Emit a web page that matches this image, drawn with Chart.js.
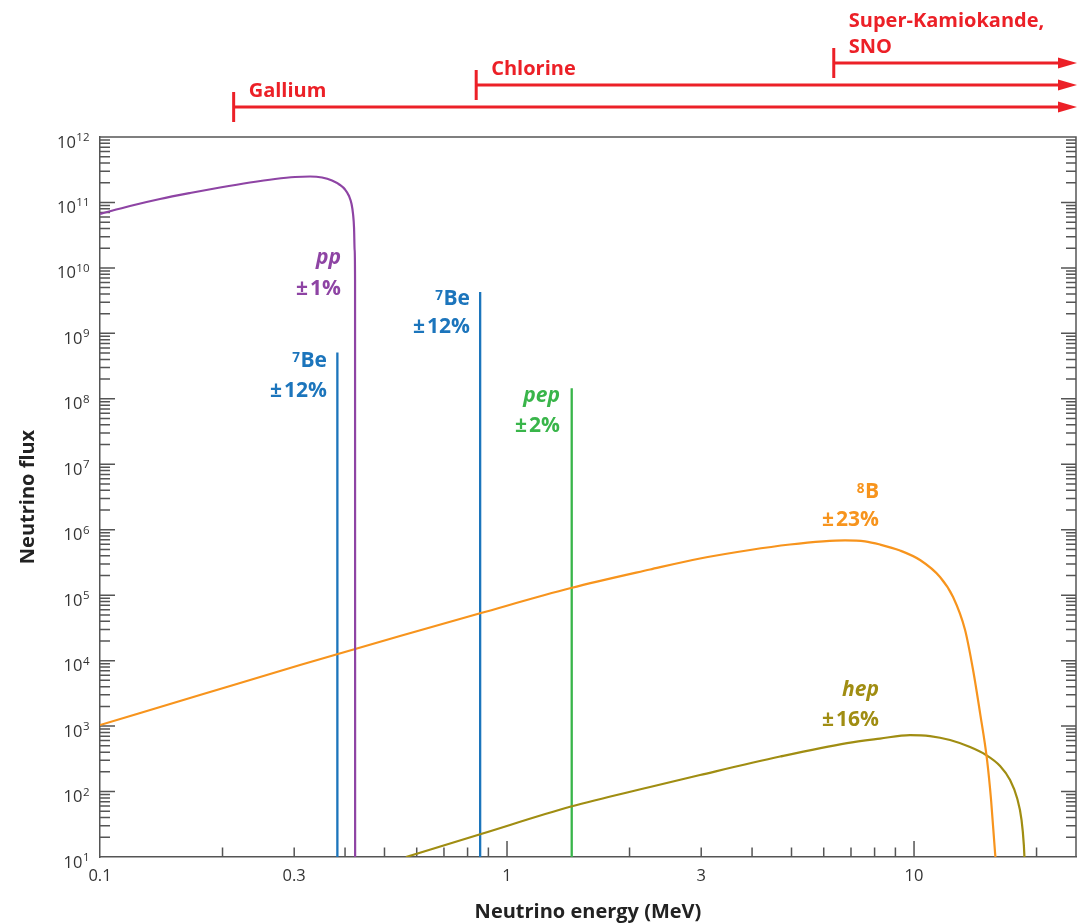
<!DOCTYPE html>
<html><head><meta charset="utf-8">
<script src="https://cdn.jsdelivr.net/npm/chart.js@4.4.1/dist/chart.umd.min.js"></script>
<style>html,body{margin:0;padding:0;background:#fff}#wrap{width:1086px;height:924px;position:relative}</style>
</head><body><div id="wrap"><canvas id="c"></canvas></div>
<script>
// ---- data ----
const ppEnergy  = [0.1, 0.1185, 0.1404, 0.1664, 0.1972, 0.2336, 0.2692, 0.3014, 0.3281, 0.3512, 0.3716, 0.3888, 0.4000, 0.4091, 0.4150, 0.4185, 0.4209, 0.4223, 0.4233, 0.4235];
const ppFlux    = [6.66e10, 8.83e10, 1.129e11, 1.394e11, 1.692e11, 2.017e11, 2.282e11, 2.448e11, 2.492e11, 2.405e11, 2.165e11, 1.848e11, 1.577e11, 1.254e11, 9.47e10, 6.66e10, 4.07e10, 1.877e10, 6.53e9, 1];
const b8Energy  = [0.1, 0.176, 0.3101, 0.5459, 0.8632, 1.436, 2.246, 2.980, 3.955, 4.958, 5.977, 6.769, 7.578, 8.250, 9.238, 10.345, 11.583, 12.471, 13.348, 13.966, 14.530, 15.117, 15.463, 15.817, 15.95];
const b8Flux    = [1.038e3, 2.981e3, 8.566e3, 2.376e4, 5.338e4, 1.286e5, 2.466e5, 3.631e5, 4.896e5, 5.941e5, 6.650e5, 6.888e5, 6.650e5, 5.941e5, 4.811e5, 3.444e5, 1.894e5, 9.37e4, 2.934e4, 7.183e3, 1.582e3, 302.9, 74.2, 11.5, 6.3];
const hepEnergy = [0.5647, 0.8632, 1.436, 2.246, 2.980, 4.686, 6.846, 8.250, 9.776, 10.946, 12.261, 13.730, 15.031, 16.271, 17.217, 17.912, 18.373, 18.613, 18.687];
const hepFlux   = [10, 22.42, 58.99, 117.2, 178.7, 342.6, 550.8, 645.4, 730.0, 704.7, 612.2, 478.5, 361.2, 245.2, 149.9, 79.6, 36.7, 15.2, 8.98];
const lineNames   = ['7Be (0.38 MeV)', '7Be (0.86 MeV)', 'pep'];
const lineEnergy  = [0.383, 0.859, 1.442];
const lineFlux    = [5.1e8, 4.3e9, 1.45e8];
const xTickValues = [0.1, 0.3, 1, 3, 10];
const yExponents  = [1, 2, 3, 4, 5, 6, 7, 8, 9, 10, 11, 12];
const detectorNames     = [['Gallium'], ['Chlorine'], ['Super-Kamiokande,', 'SNO']];
const detectorThreshold = [0.213, 0.84, 6.35];

// ---- styles ----
const FONT = '"Open Sans", "Noto Sans", sans-serif';
const C = {pp:'#8e44a4', be:'#1c75bc', pep:'#39b54a', b8:'#f7941d', hep:'#a08d12', red:'#ec2027', axis:'#555555', text:'#333333'};
const pts = (xs, ys) => xs.map((v, i) => ({x: v, y: ys[i]}));
const lineColors = [C.be, C.be, C.pep];

const datasets = [
  {label:'pp', data: pts(ppEnergy, ppFlux), borderColor:C.pp, borderWidth:2.2},
  {label:'8B', data: pts(b8Energy, b8Flux), borderColor:C.b8, borderWidth:2.2},
  {label:'hep', data: pts(hepEnergy, hepFlux), borderColor:C.hep, borderWidth:2.2},
].concat(lineEnergy.map((e, i) => ({
  label: lineNames[i], data: [{x:e, y:lineFlux[i]}, {x:e, y:1}], borderColor: lineColors[i], borderWidth:2.3, cubicInterpolationMode:'default', tension:0
})));
datasets.forEach(d => { d.pointRadius = 0; d.fill = false; if (!d.cubicInterpolationMode) d.cubicInterpolationMode = 'monotone'; });

const HS = '\u200a';
const innerLabels = [
  {t1:'pp', sup:'', t2:'\u00b1' + HS + '1%', c:C.pp, x:341, y1:264, y2:295, it:true},
  {t1:'Be', sup:'7', t2:'\u00b1' + HS + '12%', c:C.be, x:327, y1:367, y2:397, it:false},
  {t1:'Be', sup:'7', t2:'\u00b1' + HS + '12%', c:C.be, x:470, y1:305, y2:333, it:false},
  {t1:'pep', sup:'', t2:'\u00b1' + HS + '2%', c:C.pep, x:560, y1:402, y2:432, it:true},
  {t1:'B', sup:'8', t2:'\u00b1' + HS + '23%', c:C.b8, x:879, y1:498, y2:526, it:false},
  {t1:'hep', sup:'', t2:'\u00b1' + HS + '16%', c:C.hep, x:879, y1:696, y2:726, it:true},
];
const arrowRowY = [107, 85, 63];

const decor = {
  id: 'decor',
  beforeDatasetsDraw(chart) {
    const {ctx, chartArea: a, scales: {x, y}} = chart;
    ctx.save();
    ctx.strokeStyle = C.axis; ctx.lineWidth = 1.5;
    ctx.beginPath();
    ctx.moveTo(a.left, a.top); ctx.lineTo(a.right, a.top); ctx.lineTo(a.right, a.bottom);
    for (let e = yExponents[0]; e < yExponents[yExponents.length - 1]; e++) {
      for (let k = 1; k <= 9; k++) {
        if (e === yExponents[0] && k === 1) continue;
        const py = y.getPixelForValue(k * Math.pow(10, e));
        const len = k === 1 ? 15 : 10;
        ctx.moveTo(a.left, py); ctx.lineTo(a.left + len, py);
        ctx.moveTo(a.right, py); ctx.lineTo(a.right - len, py);
      }
    }
    const xt = [];
    for (let k = 2; k <= 9; k++) xt.push(k / 10, k);
    xt.push(1, 10, 20);
    xt.forEach(v => {
      const px = x.getPixelForValue(v);
      const len = (v === 1 || v === 10) ? 16 : 9.5;
      ctx.moveTo(px, a.bottom); ctx.lineTo(px, a.bottom - len);
    });
    ctx.stroke();
    ctx.fillStyle = C.text;
    yExponents.forEach(e => {
      const py = y.getPixelForValue(Math.pow(10, e));
      ctx.font = '11.5px ' + FONT;
      const sw = ctx.measureText(String(e)).width;
      ctx.textAlign = 'left'; ctx.textBaseline = 'alphabetic';
      ctx.fillText(String(e), 89.5 - sw, py + 4);
      ctx.font = '16.5px ' + FONT;
      ctx.textAlign = 'right';
      ctx.fillText('10', 89.5 - sw - 0.5, py + 10.5);
    });
    ctx.restore();
  },
  afterDraw(chart) {
    const {ctx, chartArea: a, scales: {x}} = chart;
    ctx.save();
    innerLabels.forEach(L => {
      ctx.fillStyle = L.c; ctx.textBaseline = 'alphabetic'; ctx.textAlign = 'right';
      ctx.font = (L.it ? 'italic ' : '') + 'bold 21px ' + FONT;
      const w1 = ctx.measureText(L.t1).width;
      ctx.fillText(L.t1, L.x, L.y1);
      if (L.sup) {
        ctx.font = 'bold 13.5px ' + FONT;
        ctx.fillText(L.sup, L.x - w1 - 0.5, L.y1 - 5.5);
      }
      ctx.font = 'bold 21px ' + FONT;
      ctx.fillText(L.t2, L.x, L.y2);
    });
    ctx.strokeStyle = C.red; ctx.fillStyle = C.red; ctx.lineWidth = 3;
    const tip = a.right + 1;
    detectorThreshold.forEach((th, i) => {
      const x0 = x.getPixelForValue(th);
      const yy = arrowRowY[i];
      ctx.beginPath();
      ctx.moveTo(x0, yy); ctx.lineTo(tip - 16, yy);
      ctx.moveTo(x0, yy - 15); ctx.lineTo(x0, yy + 15);
      ctx.stroke();
      ctx.beginPath();
      ctx.moveTo(tip, yy); ctx.lineTo(tip - 19, yy - 5.5); ctx.lineTo(tip - 19, yy + 5.5); ctx.closePath(); ctx.fill();
      ctx.font = 'bold 20px ' + FONT; ctx.textAlign = 'left'; ctx.textBaseline = 'alphabetic';
      const names = detectorNames[i];
      names.forEach((n, j) => {
        ctx.fillText(n, x0 + 15, yy - 10 - (names.length - 1 - j) * 26.5);
      });
    });
    ctx.restore();
  }
};

Chart.defaults.font.family = FONT;
Chart.defaults.color = C.text;
new Chart(document.getElementById('c'), {
  type: 'line',
  data: {datasets},
  plugins: [decor],
  options: {
    responsive: true, maintainAspectRatio: false, animation: false,
    layout: {padding: {top: 137, left: 0, right: 10, bottom: 0}},
    plugins: {legend: {display: false}, tooltip: {enabled: false}},
    scales: {
      x: {
        type: 'logarithmic', min: 0.1, max: 25,
        grid: {display: false, drawTicks: false},
        border: {display: true, color: C.axis, width: 1.5},
        afterBuildTicks: s => { s.ticks = xTickValues.map(v => ({value: v})); },
        ticks: {font: {size: 16.5}, color: C.text, padding: 9, maxRotation: 0, autoSkip: false,
          callback: v => String(v)},
        title: {display: true, text: 'Neutrino energy (MeV)', font: {size: 20, weight: 'bold'}, color: '#222', padding: {top: 0, bottom: 0}},
        afterFit: s => { s.height = 67; }
      },
      y: {
        type: 'logarithmic', min: 10, max: 1e12,
        grid: {display: false, drawTicks: false},
        border: {display: true, color: C.axis, width: 1.5},
        ticks: {display: false},
        title: {display: true, text: 'Neutrino flux', font: {size: 20, weight: 'bold'}, color: '#222', padding: {top: 16, bottom: 0}},
        afterFit: s => { s.width = 100; }
      }
    }
  }
});
</script></body></html>
